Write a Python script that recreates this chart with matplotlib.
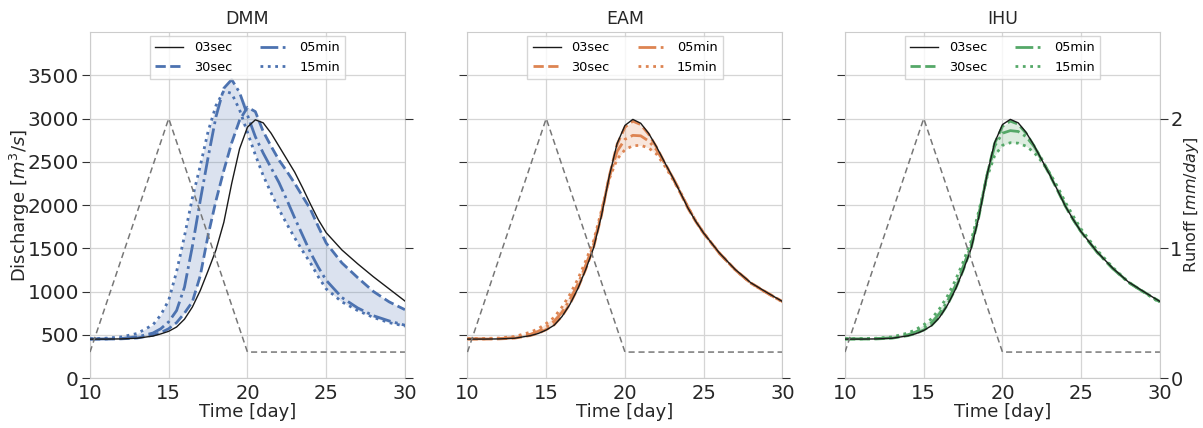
import matplotlib.pyplot as plt
import numpy as np

# time axis (days), denser around the flood wave
t = [10, 11, 12, 13, 14, 14.5, 15, 15.5, 16, 16.5, 17, 17.5, 18, 18.5, 19, 19.5,
     20, 20.5, 21, 21.5, 22, 22.5, 23, 23.5, 24, 24.5, 25, 26, 27, 28, 29, 30]

# runoff forcing (mm/day)
t_runoff = [10, 15, 20, 30]
runoff = [0.2, 2.0, 0.2, 0.2]

models = ["DMM", "EAM", "IHU"]
steps = ["03sec", "30sec", "05min", "15min"]

# discharge (m3/s) per model and time step
dmm_03sec = [450, 450, 452, 460, 485, 510, 540, 590, 680, 820, 1010, 1240, 1480, 1800, 2250, 2650,
             2900, 2985, 2950, 2830, 2680, 2530, 2380, 2200, 2010, 1830, 1680, 1480, 1320, 1170, 1030, 890]
dmm_30sec = [450, 450, 453, 463, 495, 525, 570, 640, 750, 880, 1180, 1650, 2050, 2400, 2720, 2980,
             3130, 3080, 2850, 2680, 2520, 2390, 2250, 2100, 1950, 1750, 1560, 1330, 1160, 1000, 880, 790]
dmm_05min = [450, 452, 458, 475, 520, 570, 650, 780, 1050, 1520, 2050, 2550, 3020, 3350, 3450, 3300,
             3040, 2790, 2600, 2430, 2260, 2060, 1850, 1650, 1450, 1280, 1130, 930, 810, 720, 660, 610]
dmm_15min = [455, 460, 475, 515, 615, 730, 900, 1230, 1640, 2080, 2450, 2850, 3150, 3320, 3290, 3100,
             2840, 2580, 2340, 2140, 1950, 1780, 1620, 1470, 1330, 1170, 1030, 880, 780, 700, 640, 600]

eam_03sec = [450, 450, 452, 460, 490, 515, 555, 610, 710, 850, 1030, 1250, 1500, 1870, 2330, 2710,
             2920, 2990, 2945, 2830, 2675, 2500, 2330, 2150, 1965, 1810, 1675, 1445, 1255, 1100, 990, 885]
eam_30sec = [450, 450, 452, 461, 492, 518, 560, 615, 715, 855, 1035, 1255, 1505, 1875, 2330, 2700,
             2900, 2970, 2930, 2820, 2670, 2495, 2325, 2145, 1962, 1808, 1672, 1443, 1253, 1099, 989, 884]
eam_05min = [452, 453, 456, 468, 505, 540, 590, 655, 760, 905, 1080, 1300, 1540, 1900, 2320, 2620,
             2760, 2805, 2800, 2740, 2640, 2490, 2330, 2160, 1975, 1815, 1675, 1440, 1250, 1095, 985, 880]
eam_15min = [455, 457, 462, 480, 530, 570, 630, 700, 820, 965, 1140, 1350, 1580, 1930, 2300, 2530,
             2640, 2685, 2690, 2660, 2590, 2460, 2310, 2150, 1975, 1815, 1675, 1445, 1250, 1095, 985, 880]

ihu_03sec = [450, 450, 452, 460, 488, 512, 550, 605, 700, 840, 1020, 1240, 1490, 1860, 2330, 2720,
             2930, 2990, 2950, 2840, 2690, 2520, 2350, 2170, 1985, 1830, 1690, 1460, 1270, 1110, 995, 885]
ihu_30sec = [450, 450, 452, 461, 490, 515, 555, 610, 705, 845, 1025, 1245, 1495, 1865, 2330, 2710,
             2910, 2970, 2935, 2830, 2685, 2518, 2348, 2168, 1984, 1829, 1689, 1459, 1268, 1108, 993, 883]
ihu_05min = [452, 453, 456, 466, 500, 532, 580, 640, 745, 885, 1060, 1285, 1530, 1890, 2330, 2680,
             2830, 2860, 2850, 2790, 2680, 2530, 2360, 2180, 1990, 1830, 1690, 1455, 1265, 1105, 990, 880]
ihu_15min = [455, 456, 460, 475, 520, 560, 615, 685, 800, 945, 1125, 1340, 1580, 1930, 2310, 2570,
             2690, 2720, 2715, 2680, 2610, 2500, 2370, 2210, 2030, 1870, 1720, 1480, 1280, 1110, 990, 870]

discharge = {
    "DMM": [dmm_03sec, dmm_30sec, dmm_05min, dmm_15min],
    "EAM": [eam_03sec, eam_30sec, eam_05min, eam_15min],
    "IHU": [ihu_03sec, ihu_30sec, ihu_05min, ihu_15min],
}
colors = {"DMM": "#4c72b0", "EAM": "#dd8452", "IHU": "#55a868"}
styles = ["-", "--", "-.", ":"]

plt.rcParams['font.family'] = 'DejaVu Sans'

fig = plt.figure(figsize=(12.03, 4.28), dpi=100)
lefts = [0.0748, 0.3886, 0.7024]
q_max = 4000
r_max = q_max / 1500  # runoff of 2 mm/day lines up with 3000 m3/s

for i, name in enumerate(models):
    ax = fig.add_axes([lefts[i], 0.1168, 0.2618, 0.8084])
    c = colors[name]
    series = [np.array(s, dtype=float) for s in discharge[name]]

    for j, (lab, s) in enumerate(zip(steps, series)):
        if j == 0:
            ax.plot(t, s, color="#1a1a1a", lw=1.0, ls="-", label=lab, zorder=4)
        else:
            ax.plot(t, s, color=c, lw=2.0, ls=styles[j], label=lab, zorder=3)
    coarse = np.vstack(series[1:])
    ax.fill_between(t, coarse.min(axis=0), coarse.max(axis=0), color=c, alpha=0.2, lw=0, zorder=2)

    ax.set_xlim(10, 30)
    ax.set_ylim(0, q_max)
    ax.set_xticks([10, 15, 20, 25, 30])
    ax.set_yticks(np.arange(0, 3501, 500))
    ax.grid(True, color="#d5d5d5", lw=0.9, zorder=0)
    ax.set_axisbelow(True)
    for sp in ax.spines.values():
        sp.set_color("#cccccc")
    ax.tick_params(axis="both", labelsize=14, length=6, pad=2, color="#333333", labelcolor="#262626")
    ax.tick_params(axis="y", labelsize=14.5)
    ax.tick_params(axis="x", length=0, pad=4)
    ax.set_xlabel("Time [day]", fontsize=13, labelpad=0, color="#262626")
    ax.set_title(name, fontsize=12.5, color="#262626", pad=6)
    if i == 0:
        ax.set_ylabel("Discharge [$m^3/s$]", fontsize=13, color="#262626")
        ax.yaxis.set_label_coords(-0.185, 0.5)
    else:
        ax.set_yticklabels([])

    ax.legend(loc="upper center", ncol=2, fontsize=9.3, frameon=True, edgecolor="#cccccc",
              borderaxespad=0.3, columnspacing=2.2, handlelength=2.2, fancybox=False)

    ax2 = ax.twinx()
    ax2.plot(t_runoff, runoff, color="#777777", lw=1.1, ls=(0, (4, 2.5)), zorder=5)
    ax2.set_ylim(0, r_max)
    ax2.set_yticks([0, 1, 2])
    ax2.grid(False)
    for sp in ax2.spines.values():
        sp.set_visible(False)
    ax2.tick_params(axis="y", labelsize=14, length=6, pad=1.5, color="#333333", labelcolor="#262626")
    if i == 2:
        ax2.set_ylabel("Runoff [$mm/day$]", fontsize=11.5, color="#262626")
        ax2.yaxis.set_label_coords(1.071, 0.5)
    else:
        ax2.set_yticklabels([])

fig.savefig("out.png", dpi=100)
